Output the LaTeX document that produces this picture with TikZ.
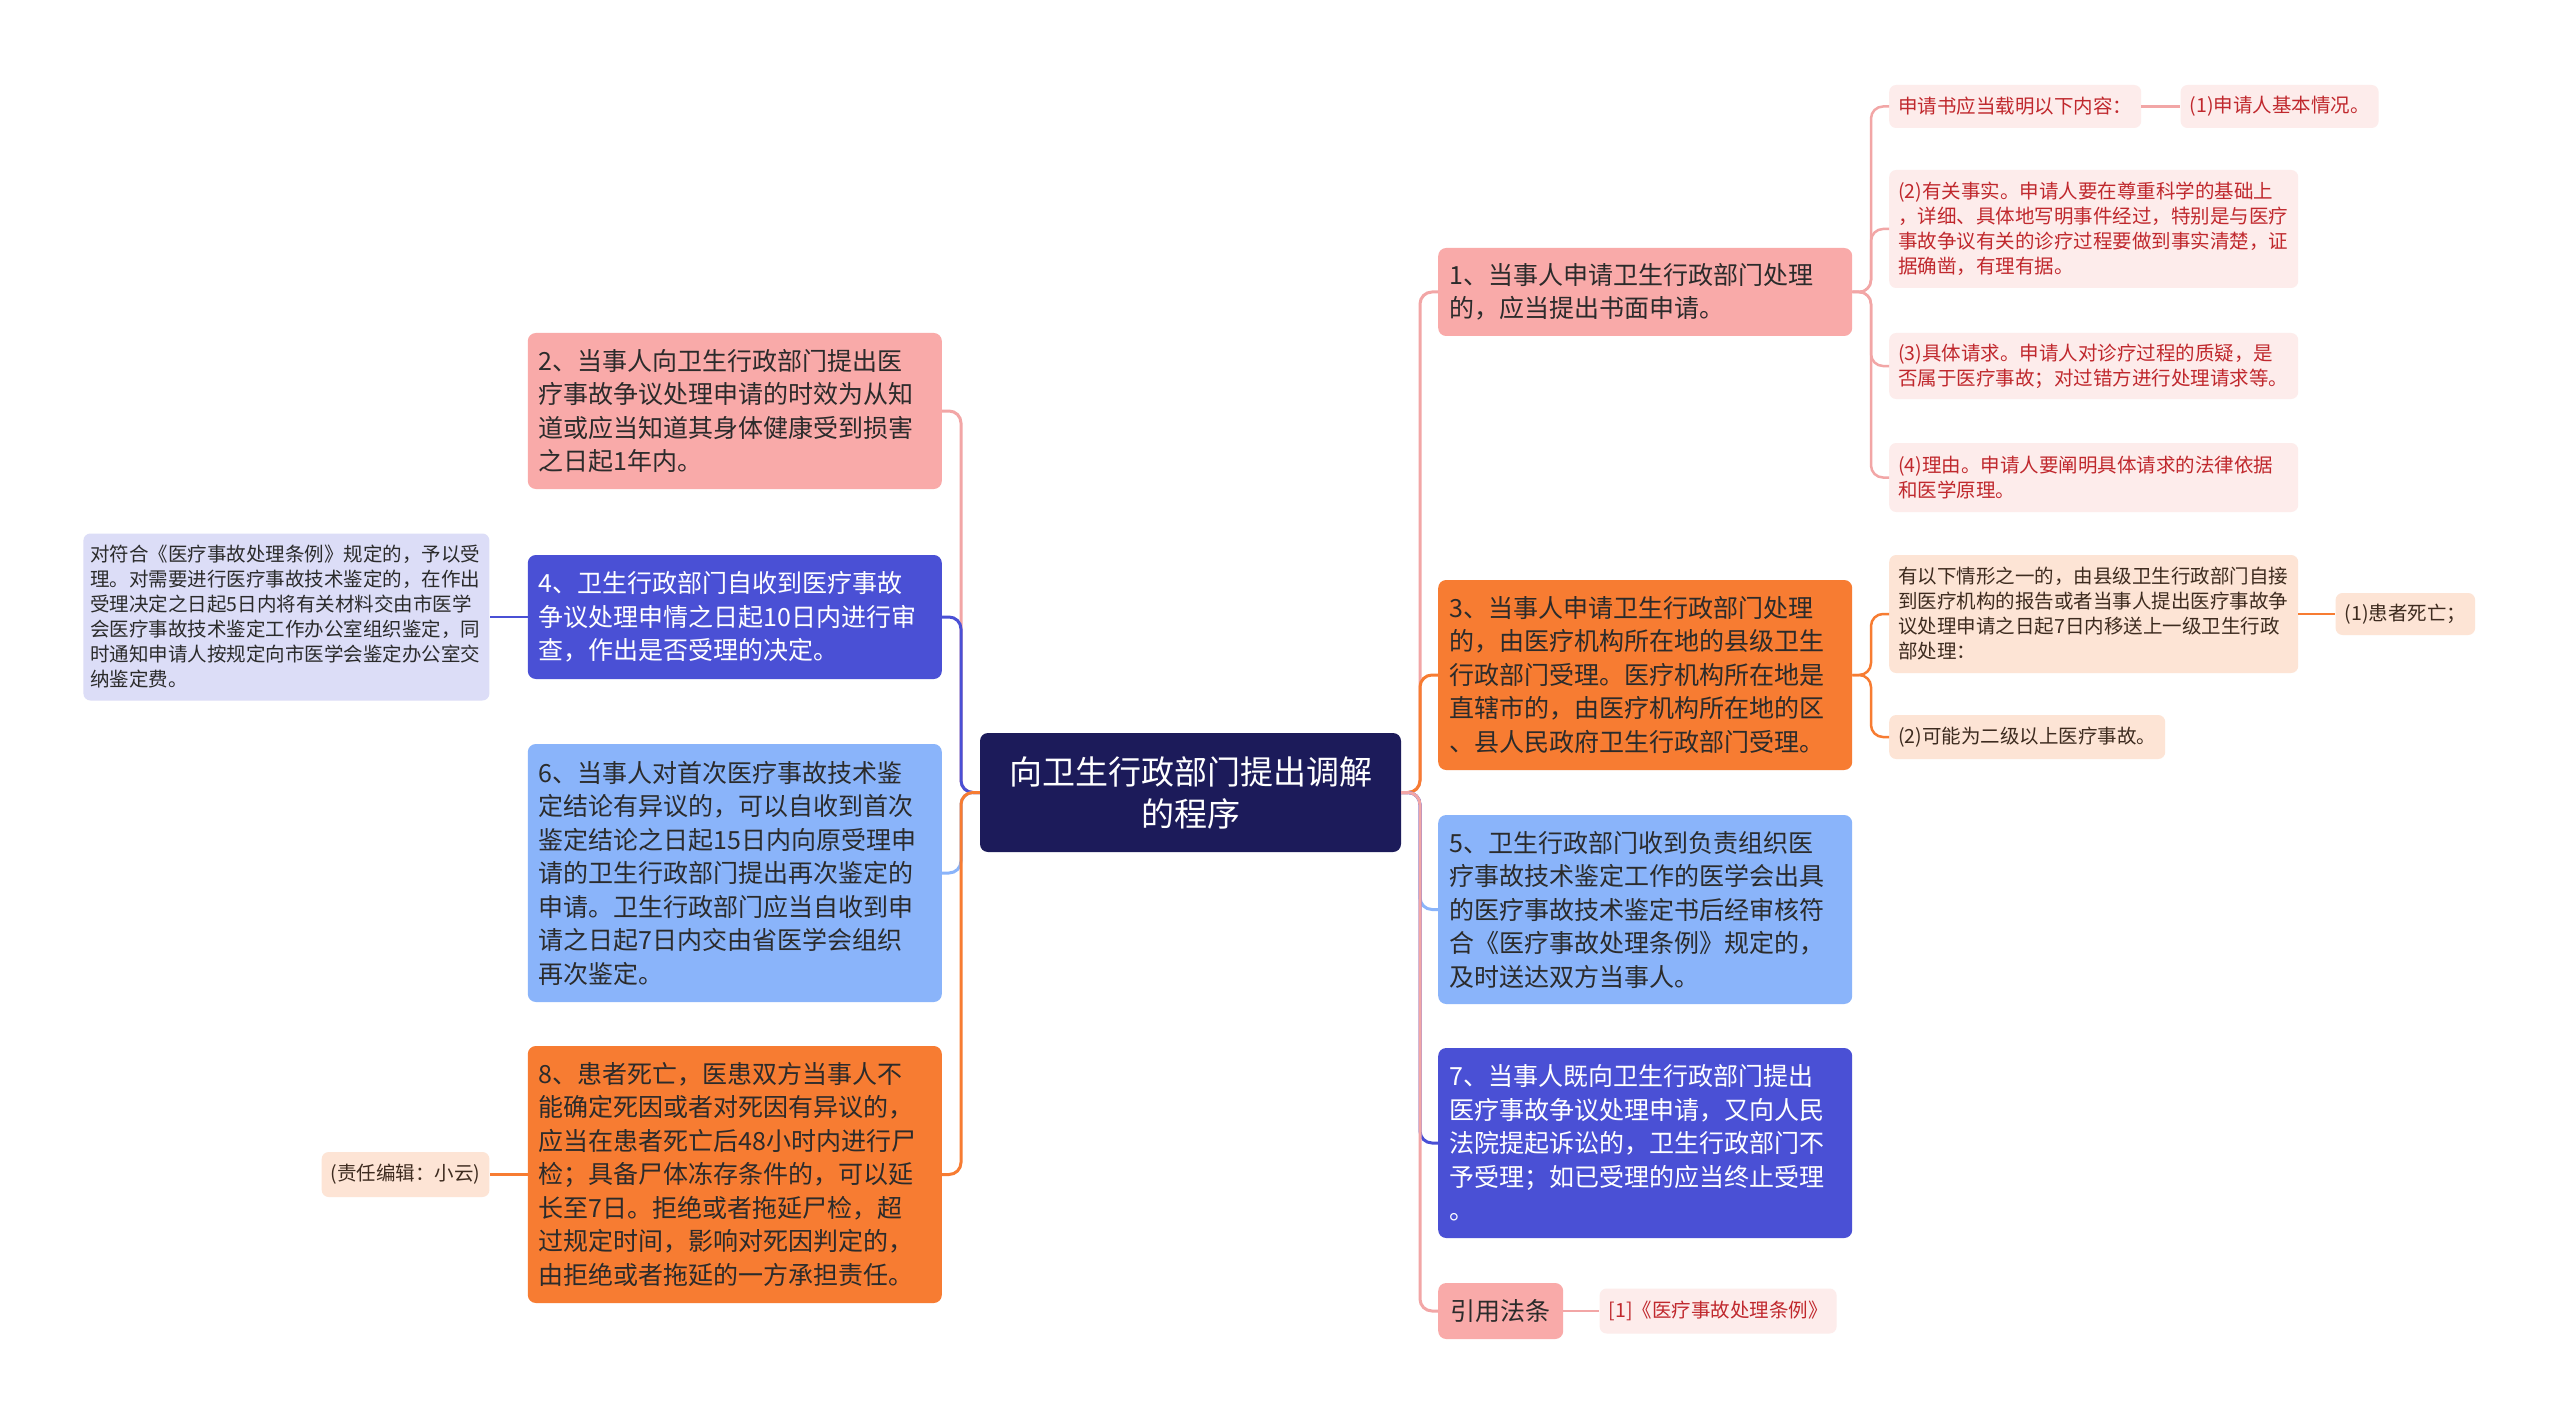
\documentclass[tikz,border=0pt]{standalone}
\usepackage{fontspec}
\setmainfont{Noto Sans CJK SC}
\usepackage{tikz}
\usetikzlibrary{positioning}
\definecolor{navy}{HTML}{1C1B5A}
\definecolor{rose}{HTML}{F9AAA9}
\definecolor{roseline}{HTML}{F2A6A6}
\definecolor{amber}{HTML}{F77C32}
\definecolor{sky}{HTML}{8AB4FA}
\definecolor{indigo}{HTML}{4A50D5}
\definecolor{blush}{HTML}{FDECEB}
\definecolor{peach}{HTML}{FDE4D5}
\definecolor{lavender}{HTML}{DCDDF7}
\definecolor{ink}{HTML}{2B2B2B}
\definecolor{redink}{HTML}{C0282D}
\definecolor{brownink}{HTML}{3D2B1F}
\newdimen\wdim
\newdimen\swdim
\wdim=392pt
\swdim=391pt
\tikzstyle{topic}=[
  rectangle,
  rounded corners=8pt,
  fill=navy,
  text=white,
  font=\fontsize{33}{42}\selectfont,
  align=center,
  inner sep=0pt,
  minimum width=421pt,
  minimum height=119pt,
]
\tikzstyle{branch}=[
  rectangle,
  rounded corners=8pt,
  font=\fontsize{25}{33.5}\selectfont,
  align=left,
  inner xsep=11pt,
  inner ysep=0pt,
  text=ink,
]
\tikzstyle{wide}=[
  branch,
  text width=\wdim,
]
\tikzstyle{leaf}=[
  rectangle,
  rounded corners=7pt,
  font=\fontsize{19.5}{25}\selectfont,
  align=left,
  inner xsep=9pt,
  inner ysep=0pt,
]
\tikzstyle{redleaf}=[leaf, fill=blush, text=redink]
\tikzstyle{peachleaf}=[leaf, fill=peach, text=brownink]
\tikzstyle{link}=[
  line width=3pt,
  rounded corners=12pt,
]
\tikzset{
  x=1pt, y=-1pt,
  node distance=38pt,
}
\begin{document}
\begin{tikzpicture}
  \useasboundingbox [fill=white] (0,0) rectangle (2560,1423);
  \node (root) [topic] at (1190.5,792.5) {向卫生行政部门提出调解\\的程序};
  \coordinate (rtrunk) at (1420,792.5);
  \coordinate (ltrunk) at (961,792.5);
  %% right side
  \node (written) [wide, fill=rose, anchor=west, minimum height=88pt] at (1438,292)
    {1、当事人申请卫生行政部门处理\\的，应当提出书面申请。};
  \node (venue) [wide, fill=amber, anchor=west, minimum height=190pt] at (1438,675)
    {3、当事人申请卫生行政部门处理\\的，由医疗机构所在地的县级卫生\\行政部门受理。医疗机构所在地是\\直辖市的，由医疗机构所在地的区\\、县人民政府卫生行政部门受理。};
  \node (deliver) [wide, fill=sky, anchor=west, minimum height=189pt] at (1438,909.5)
    {5、卫生行政部门收到负责组织医\\疗事故技术鉴定工作的医学会出具\\的医疗事故技术鉴定书后经审核符\\合《医疗事故处理条例》规定的，\\及时送达双方当事人。};
  \node (lawsuit) [wide, fill=indigo, text=white, anchor=west, minimum height=190pt] at (1438,1143)
    {7、当事人既向卫生行政部门提出\\医疗事故争议处理申请，又向人民\\法院提起诉讼的，卫生行政部门不\\予受理；如已受理的应当终止受理\\。};
  \node (cite) [branch, fill=rose, anchor=west, inner xsep=12.5pt, minimum height=56pt] at (1438,1311) {引用法条};
  \node (citeref) [redleaf, right=36pt of cite, minimum height=45pt] {[1]《医疗事故处理条例》};
  %% left side
  \node (limit) [wide, fill=rose, anchor=east, minimum height=156pt] at (942,411)
    {2、当事人向卫生行政部门提出医\\疗事故争议处理申请的时效为从知\\道或应当知道其身体健康受到损害\\之日起1年内。};
  \node (review) [wide, fill=indigo, text=white, anchor=east, minimum height=124pt] at (942,617)
    {4、卫生行政部门自收到医疗事故\\争议处理申情之日起10日内进行审\\查，作出是否受理的决定。};
  \node (recheck) [wide, fill=sky, anchor=east, minimum height=258pt] at (942,873)
    {6、当事人对首次医疗事故技术鉴\\定结论有异议的，可以自收到首次\\鉴定结论之日起15日内向原受理申\\请的卫生行政部门提出再次鉴定的\\申请。卫生行政部门应当自收到申\\请之日起7日内交由省医学会组织\\再次鉴定。};
  \node (autopsy) [wide, fill=amber, anchor=east, minimum height=257pt] at (942,1174.5)
    {8、患者死亡，医患双方当事人不\\能确定死因或者对死因有异议的，\\应当在患者死亡后48小时内进行尸\\检；具备尸体冻存条件的，可以延\\长至7日。拒绝或者拖延尸检，超\\过规定时间，影响对死因判定的，\\由拒绝或者拖延的一方承担责任。};
  \node (reviewnote) [leaf, fill=lavender, text=ink, left=38pt of review, inner xsep=7pt, text width=392pt, minimum height=167pt]
    {对符合《医疗事故处理条例》规定的，予以受\\理。对需要进行医疗事故技术鉴定的，在作出\\受理决定之日起5日内将有关材料交由市医学\\会医疗事故技术鉴定工作办公室组织鉴定，同\\时通知申请人按规定向市医学会鉴定办公室交\\纳鉴定费。};
  \node (editor) [peachleaf, left=38pt of autopsy, minimum height=45pt] {(责任编辑：小云)};
  %% details of 1
  \coordinate (atrunk) at (1871,292);
  \node (content) [redleaf, anchor=west, minimum height=43pt] at (1889,106.5) {申请书应当载明以下内容：};
  \node (basic) [redleaf, right=39pt of content, minimum height=43pt] {(1)申请人基本情况。};
  \node (facts) [redleaf, anchor=west, text width=\swdim, minimum height=118pt] at (1889,229)
    {(2)有关事实。申请人要在尊重科学的基础上\\，详细、具体地写明事件经过，特别是与医疗\\事故争议有关的诊疗过程要做到事实清楚，证\\据确凿，有理有据。};
  \node (claims) [redleaf, anchor=west, text width=\swdim, minimum height=66pt] at (1889,366)
    {(3)具体请求。申请人对诊疗过程的质疑，是\\否属于医疗事故；对过错方进行处理请求等。};
  \node (reasons) [redleaf, anchor=west, text width=\swdim, minimum height=69pt] at (1889,477.5)
    {(4)理由。申请人要阐明具体请求的法律依据\\和医学原理。};
  %% details of 3
  \coordinate (btrunk) at (1871,675);
  \node (transfer) [peachleaf, anchor=west, text width=\swdim, minimum height=118pt] at (1889,614)
    {有以下情形之一的，由县级卫生行政部门自接\\到医疗机构的报告或者当事人提出医疗事故争\\议处理申请之日起7日内移送上一级卫生行政\\部处理：};
  \node (death) [peachleaf, right=37pt of transfer, minimum height=42pt] {(1)患者死亡；};
  \node (grade) [peachleaf, anchor=west, minimum height=44pt] at (1889,737) {(2)可能为二级以上医疗事故。};
  %%
  \draw [link, roseline] (root.east) -- (rtrunk) |- (written.west);
  \draw [link, amber] (root.east) -- (rtrunk) |- (venue.west);
  \draw [link, sky] (root.east) -- (rtrunk) |- (deliver.west);
  \draw [link, indigo] (root.east) -- (rtrunk) |- (lawsuit.west);
  \draw [link, roseline] (root.east) -- (rtrunk) |- (cite.west);
  \draw [link, roseline] (root.west) -- (ltrunk) |- (limit.east);
  \draw [link, indigo] (root.west) -- (ltrunk) |- (review.east);
  \draw [link, sky] (root.west) -- (ltrunk) |- (recheck.east);
  \draw [link, amber] (root.west) -- (ltrunk) |- (autopsy.east);
  \draw [link, line width=2.5pt, roseline] (cite) -- (citeref);
  \draw [link, line width=2.5pt, indigo] (review) -- (reviewnote);
  \draw [link, line width=2.5pt, amber] (autopsy) -- (editor);
  \foreach \leafname in {content,facts,claims,reasons}
    \draw [link, line width=2.5pt, roseline] (written.east) -- (atrunk) |- (\leafname.west);
  \draw [link, line width=2.5pt, roseline] (content) -- (basic);
  \foreach \leafname in {transfer,grade}
    \draw [link, line width=2.5pt, amber] (venue.east) -- (btrunk) |- (\leafname.west);
  \draw [link, line width=2.5pt, amber] (transfer) -- (death);
\end{tikzpicture}
\end{document}
